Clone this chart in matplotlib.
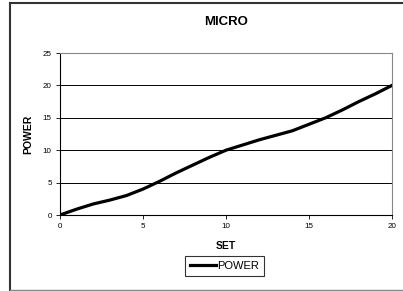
import matplotlib
matplotlib.use("Agg")
import matplotlib.pyplot as plt
from matplotlib.lines import Line2D

plt.rcParams['font.family'] = ['Liberation Sans', 'DejaVu Sans']

# data
set_vals = [0, 1, 2, 3, 4, 5, 6, 7, 8, 9, 10, 11, 12, 13, 14, 15, 16, 17, 18, 19, 20]
power = [0, 0.9, 1.7, 2.3, 3.0, 4.0, 5.2, 6.5, 7.7, 8.9, 10, 10.8, 11.6, 12.3, 13.0, 14.0, 15.0, 16.2, 17.5, 18.7, 20]
xticks = [0, 5, 10, 15, 20]
yticks = [0, 5, 10, 15, 20, 25]

W, H = 403, 291
fig = plt.figure(figsize=(W / 100, H / 100), dpi=100)
ax = fig.add_axes([60 / W, 1 - 215 / H, 332 / W, 162 / H])

ax.plot(set_vals, power, color='black', lw=2.3, label='POWER', solid_joinstyle='round')
ax.set_xlim(0, 20)
ax.set_ylim(0, 25)
ax.set_xticks(xticks)
ax.set_yticks(yticks)
ax.tick_params(labelsize=5.8, length=3, width=0.6, pad=3, color='black')
for y in yticks[1:-1]:
    ax.axhline(y, color='black', lw=0.7, zorder=0)

ax.spines['left'].set_color('black')
ax.spines['bottom'].set_color('black')
ax.spines['top'].set_color('#888888')
ax.spines['right'].set_color('#888888')
for s in ax.spines.values():
    s.set_linewidth(0.8)

ax.set_title('MICRO', fontsize=9.5, fontweight='bold', pad=20)
ax.set_xlabel('SET', fontsize=7.5, fontweight='bold', labelpad=8)
ax.set_ylabel('POWER', fontsize=7.5, fontweight='bold', labelpad=7)

leg = fig.legend(loc='center', bbox_to_anchor=(224.5 / W, 1 - 266 / H), fontsize=8,
                 frameon=True, fancybox=False, edgecolor='black', handlelength=2.3,
                 handletextpad=0.1, borderpad=0.45, borderaxespad=0)
leg.get_frame().set_linewidth(0.8)

# chart area border
fig.add_artist(Line2D([10 / W, 10 / W], [1 - 2.5 / H, 1 - 289.5 / H], color='#333333', lw=1.5))
fig.add_artist(Line2D([10 / W, 1], [1 - 2.5 / H, 1 - 2.5 / H], color='#333333', lw=1.5))
fig.add_artist(Line2D([10 / W, 1], [1 - 289.5 / H, 1 - 289.5 / H], color='#888888', lw=1))

fig.savefig('out.png', dpi=100)
